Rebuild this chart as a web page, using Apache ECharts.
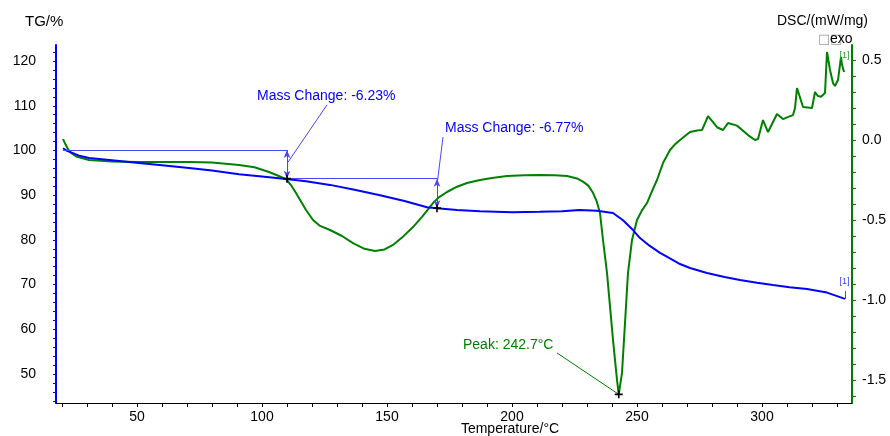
<!DOCTYPE html>
<html><head><meta charset="utf-8">
<script src="https://cdn.jsdelivr.net/npm/echarts@6/dist/echarts.min.js"></script>
<style>html,body{margin:0;padding:0;background:#fff}#c{width:890px;height:436px}</style>
</head><body><div id="c"></div>
<script>
// ---- data ----
const tgTemp = [20.4,22,24.4,27,30.8,40,50.8,60,70.8,80,90.8,100,109.6,117.6,127.2,137,147.2,157,166,170,178,187.2,200,211,220,227,234,240.4,244.4,248.4,251.2,255,259.2,263,267.2,271.2,278,285,291.2,298,304.4,311,318,326,333.2];
const tgValue = [100.5,99.9,99.4,98.8,98.3,97.8,97.2,96.7,96.1,95.5,94.7,94.2,93.6,93.1,92.3,91.2,90.0,88.7,87.3,87.1,86.7,86.4,86.2,86.3,86.4,86.7,86.5,86.0,84.4,82.2,80.4,78.7,77.1,75.9,74.6,73.7,72.6,71.7,71.0,70.4,69.9,69.4,69.0,68.2,66.8];
const dscTemp = [20.4,21.5,22.5,23.6,26,30.8,40,50.8,60,70.8,80,90.8,97,102.8,106,109.6,111.5,113.6,117.6,120.4,123,127.2,132,136.4,141,145.2,149,152.4,156,160.4,164,168.4,171,174,178,182,187.2,192,198,205,211,217,222,226,228.4,230.5,232.4,233.8,235.2,236.4,238,239.2,240.4,242,242.7,244,245.2,246.4,248,250,252,254,256,258,260.4,263.2,265,267.2,271.2,274,276,276.6,278.4,280.4,282,284.4,286.4,290,294.4,297.2,298.4,300.4,302.4,306,308.4,310.5,312.4,313.2,314,316.4,320,321.2,322.4,323.6,325.2,326,327.2,328.4,329.2,330.4,331.6,332,332.8];
const dscValue = [0.006,-0.03,-0.06,-0.081,-0.105,-0.125,-0.134,-0.1375,-0.138,-0.1375,-0.14,-0.156,-0.17,-0.2,-0.22,-0.244,-0.28,-0.331,-0.4375,-0.5,-0.535,-0.5625,-0.6,-0.644,-0.68,-0.694,-0.684,-0.656,-0.61,-0.544,-0.48,-0.394,-0.355,-0.325,-0.292,-0.269,-0.25,-0.237,-0.225,-0.221,-0.219,-0.22,-0.225,-0.24,-0.26,-0.285,-0.33,-0.38,-0.456,-0.625,-0.83,-1.04,-1.25,-1.5,-1.59,-1.456,-1.144,-0.83,-0.625,-0.5,-0.44,-0.394,-0.32,-0.25,-0.144,-0.0625,-0.03,0.0,0.05,0.06,0.0625,0.05,0.15,0.1125,0.08,0.0625,0.106,0.09,0.031,0.0,0.006,0.125,0.05,0.1625,0.131,0.145,0.156,0.2,0.325,0.206,0.2,0.3,0.275,0.27,0.294,0.55,0.4375,0.356,0.3375,0.375,0.52,0.47,0.425];

const tempLabels = [50,100,150,200,250,300];
const tempTicks = [20,30,40,50,60,70,80,90,100,110,120,130,140,150,160,170,180,190,200,210,220,230,240,250,260,270,280,290,300,310,320,330];
const tgLabels = [50,60,70,80,90,100,110,120];
const tgTicks = [44,46,48,50,52,54,56,58,60,62,64,66,68,70,72,74,76,78,80,82,84,86,88,90,92,94,96,98,100,102,104,106,108,110,112,114,116,118,120,122];
const dscLabels = [-1.5,-1.0,-0.5,0.0,0.5];
const dscTicks = [-1.6,-1.5,-1.4,-1.3,-1.2,-1.1,-1.0,-0.9,-0.8,-0.7,-0.6,-0.5,-0.4,-0.3,-0.2,-0.1,0.0,0.1,0.2,0.3,0.4,0.5];

// annotation values
const mass1 = {start: 100.1, end: 93.7, tStart: 20.4, t: 110, text: 'Mass Change: -6.23%'};
const mass2 = {end: 87.1, t: 170, text: 'Mass Change: -6.77%'};
const peak = {t: 242.7, v: -1.59, text: 'Peak: 242.7°C'};

const FONT = 'Liberation Sans, Arial, sans-serif';
const chart = echarts.init(document.getElementById('c'), null, {renderer: 'canvas'});
const tg = tgTemp.map((t, i) => [t, tgValue[i]]);
const dsc = dscTemp.map((t, i) => [t, dscValue[i]]);
const plus = 'path://M4,0h2v10h-2zM0,4h10v2h-10z';
const annBlue = '#4646ff';

chart.setOption({
  animation: false,
  backgroundColor: '#fff',
  grid: {left: 56, right: 38, top: 45, bottom: 33, containLabel: false, outerBoundsMode: 'none'},
  xAxis: {
    type: 'value', min: 17.6, max: 336,
    axisLine: {onZero: false, lineStyle: {color: '#000', width: 1}},
    axisTick: {show: true, customValues: tempTicks, length: 4, lineStyle: {color: '#000'}},
    axisLabel: {customValues: tempLabels, color: '#000', fontSize: 14, fontFamily: FONT, margin: 7},
    splitLine: {show: false}
  },
  yAxis: [{
    type: 'value', min: 43.5, max: 123.6, position: 'left',
    axisLine: {show: true, onZero: false, lineStyle: {color: '#0000ff', width: 2}},
    axisTick: {show: true, customValues: tgTicks, length: 3, lineStyle: {color: '#0000ff', width: 1}},
    axisLabel: {customValues: tgLabels, color: '#000', fontSize: 14, fontFamily: FONT, margin: 20},
    splitLine: {show: false}
  }, {
    type: 'value', min: -1.644, max: 0.594, position: 'right',
    axisLine: {show: true, onZero: false, lineStyle: {color: '#008000', width: 2}},
    axisTick: {show: true, customValues: dscTicks, length: 4, lineStyle: {color: '#008000', width: 1}},
    axisLabel: {customValues: dscLabels, color: '#000', fontSize: 14, fontFamily: FONT, margin: 10,
      formatter: v => v.toFixed(1)},
    splitLine: {show: false}
  }],
  series: [{
    name: 'TG', type: 'line', data: tg, yAxisIndex: 0, showSymbol: false, clip: false,
    lineStyle: {color: '#0000ff', width: 2}, itemStyle: {color: '#0000ff'}, z: 3,
    markLine: {
      silent: true, symbol: ['none', 'none'], label: {show: false},
      lineStyle: {color: annBlue, width: 1, type: 'solid'},
      data: [
        [{coord: [mass1.tStart, mass1.start]}, {coord: [mass1.t, mass1.start]}],
        [{coord: [mass1.t, mass1.end]}, {coord: [mass2.t, mass1.end]}],
        [{coord: [mass1.t, mass1.start], symbol: 'arrow', symbolSize: [5, 8]}, {coord: [mass1.t, mass1.end], symbol: 'arrow', symbolSize: [5, 8]}],
        [{coord: [mass2.t, mass1.end], symbol: 'arrow', symbolSize: [5, 8]}, {coord: [mass2.t, mass2.end], symbol: 'arrow', symbolSize: [5, 8]}],
        [{coord: [110.4, 97.4]}, {coord: [126, 110.2]}],
        [{coord: [170, 92.3]}, {coord: [172.4, 103.0]}],
        [{coord: [333.2, 66.8]}, {coord: [333.2, 68.6]}]
      ]
    },
    markPoint: {
      silent: true,
      data: [
        {coord: [mass1.t, mass1.end], symbol: plus, symbolSize: 8, itemStyle: {color: '#000'}, label: {show: false}},
        {coord: [mass2.t, mass2.end], symbol: plus, symbolSize: 8, itemStyle: {color: '#000'}, label: {show: false}},
        {coord: [98, 112.2], symbol: 'circle', symbolSize: 0,
          label: {show: true, position: [0, 0], verticalAlign: 'middle', align: 'left', formatter: mass1.text, color: '#0000ff', fontSize: 14, fontFamily: FONT}},
        {coord: [173.2, 105.0], symbol: 'circle', symbolSize: 0,
          label: {show: true, position: [0, 0], verticalAlign: 'middle', align: 'left', formatter: mass2.text, color: '#0000ff', fontSize: 14, fontFamily: FONT}},
        {coord: [331.0, 70.6], symbol: 'circle', symbolSize: 0,
          label: {show: true, position: [0, 0], verticalAlign: 'middle', align: 'left', formatter: '[1]', color: '#3d3dff', fontSize: 9, fontFamily: FONT}}
      ]
    }
  }, {
    name: 'DSC', type: 'line', data: dsc, yAxisIndex: 1, showSymbol: false, clip: false,
    lineStyle: {color: '#008000', width: 2}, itemStyle: {color: '#008000'}, z: 2,
    markLine: {
      silent: true, symbol: ['none', 'none'], label: {show: false},
      lineStyle: {color: '#008000', width: 1, type: 'solid'},
      data: [[{coord: [218, -1.331]}, {coord: [peak.t, peak.v]}]]
    },
    markPoint: {
      silent: true,
      data: [
        {coord: [peak.t, peak.v], symbol: plus, symbolSize: 8, itemStyle: {color: '#000'}, label: {show: false}},
        {coord: [180.4, -1.281], symbol: 'circle', symbolSize: 0,
          label: {show: true, position: [0, 0], verticalAlign: 'middle', align: 'left', formatter: peak.text, color: '#008000', fontSize: 14, fontFamily: FONT}},
        {coord: [331.0, 0.53], symbol: 'circle', symbolSize: 0,
          label: {show: true, position: [0, 0], verticalAlign: 'middle', align: 'left', formatter: '[1]', color: '#2a9a2a', fontSize: 9, fontFamily: FONT}}
      ]
    }
  }],
  graphic: [
    {type: 'text', left: 25, top: 14, style: {text: 'TG/%', fill: '#000', font: '15px ' + FONT}},
    {type: 'text', right: 22, top: 14, style: {text: 'DSC/(mW/mg)', fill: '#000', font: '14px ' + FONT}},
    {type: 'text', left: 818, top: 33, style: {text: '□□', fill: '#999', font: '13px DejaVu Sans'}},
    {type: 'text', left: 830, top: 32, style: {text: 'exo', fill: '#000', font: '14px ' + FONT}},
    {type: 'text', x: 510, y: 429, style: {text: 'Temperature/°C', fill: '#000', font: '14px ' + FONT, align: 'center', verticalAlign: 'middle'}}
  ]
});
</script></body></html>
